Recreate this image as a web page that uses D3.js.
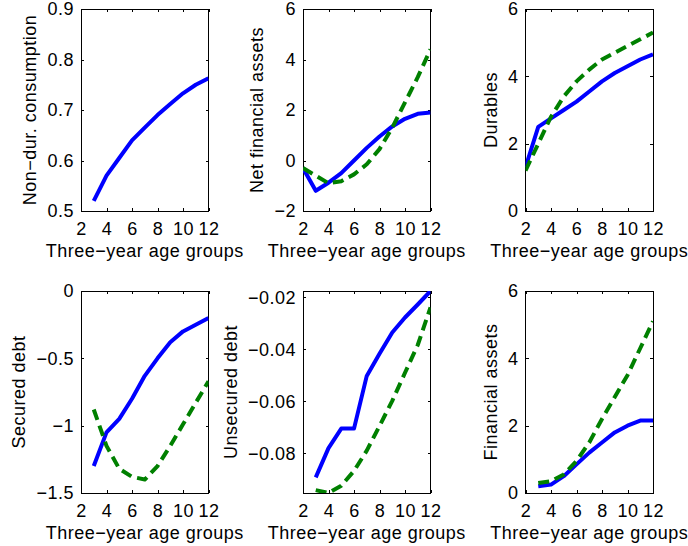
<!DOCTYPE html>
<meta charset="utf-8">
<style>

body {
  margin: 0;
  background: #fff;
}

svg {
  font: 18px "Liberation Sans", Arial, sans-serif;
  letter-spacing: 0.5px;
}

.axis path,
.axis line,
.frame {
  shape-rendering: crispEdges;
}

.axis path {
  display: none;
}

.axis line {
  stroke: #000;
}

.axis text {
  fill: #000;
}

.frame {
  fill: none;
  stroke: #000;
}

.line {
  fill: none;
  stroke-width: 4;
  stroke-linejoin: round;
}

.blue { stroke: #0000ff; }
.green { stroke: #008000; stroke-dasharray: 11,6; }

</style>
<body>
<script src="https://cdn.jsdelivr.net/npm/d3@7"></script>
<script>

var ageFrom2 = [2, 3, 4, 5, 6, 7, 8, 9, 10, 11, 12],
    ageFrom3 = [3, 4, 5, 6, 7, 8, 9, 10, 11, 12],
    xTicks = [2, 4, 6, 8, 10, 12];

var xLabel = "Three\u2212year age groups";

var nonDurBlue = [0.52, 0.57, 0.605, 0.64, 0.665, 0.69, 0.712, 0.733, 0.75, 0.763];

var netFinBlue = [-0.3, -1.2, -0.88, -0.5, 0.0, 0.5, 0.95, 1.35, 1.65, 1.85, 1.9],
    netFinGreen = [-0.3, -0.6, -0.9, -0.82, -0.55, -0.15, 0.45, 1.3, 2.3, 3.3, 4.4];

var durBlue = [1.3, 2.5, 2.75, 3.0, 3.25, 3.55, 3.85, 4.1, 4.3, 4.5, 4.65],
    durGreen = [1.2, 2.0, 2.8, 3.4, 3.85, 4.2, 4.5, 4.7, 4.9, 5.1, 5.3];

var secBlue = [-1.3, -1.05, -0.95, -0.8, -0.63, -0.5, -0.38, -0.3, -0.25, -0.2],
    secGreen = [-0.88, -1.15, -1.32, -1.38, -1.4, -1.3, -1.15, -0.99, -0.83, -0.67];

var unsecBlue = [-0.0893, -0.078, -0.0705, -0.0705, -0.0502, -0.0417, -0.0335, -0.0277, -0.0227, -0.0175],
    unsecGreen = [-0.0942, -0.0953, -0.0925, -0.0868, -0.079, -0.0695, -0.0598, -0.049, -0.0383, -0.0238];

var finBlue = [0.2, 0.25, 0.5, 0.85, 1.2, 1.5, 1.8, 2.0, 2.15, 2.15],
    finGreen = [0.3, 0.35, 0.55, 0.95, 1.5, 2.2, 2.85, 3.5, 4.3, 5.1];

var panels = [
  {label: "Non\u2212dur. consumption", domain: [0.5, 0.9], ticks: [0.5, 0.6, 0.7, 0.8, 0.9],
   series: [{x: ageFrom3, y: nonDurBlue, cls: "blue"}]},
  {label: "Net financial assets", domain: [-2, 6], ticks: [-2, 0, 2, 4, 6],
   series: [{x: ageFrom2, y: netFinBlue, cls: "blue"}, {x: ageFrom2, y: netFinGreen, cls: "green"}]},
  {label: "Durables", domain: [0, 6], ticks: [0, 2, 4, 6],
   series: [{x: ageFrom2, y: durBlue, cls: "blue"}, {x: ageFrom2, y: durGreen, cls: "green"}]},
  {label: "Secured debt", domain: [-1.5, 0], ticks: [-1.5, -1, -0.5, 0],
   series: [{x: ageFrom3, y: secBlue, cls: "blue"}, {x: ageFrom3, y: secGreen, cls: "green"}]},
  {label: "Unsecured debt", domain: d3.extent(unsecBlue.concat(unsecGreen)), ticks: [-0.08, -0.06, -0.04, -0.02],
   series: [{x: ageFrom3, y: unsecBlue, cls: "blue"}, {x: ageFrom3, y: unsecGreen, cls: "green"}]},
  {label: "Financial assets", domain: [0, 6], ticks: [0, 2, 4, 6],
   series: [{x: ageFrom3, y: finBlue, cls: "blue"}, {x: ageFrom3, y: finGreen, cls: "green"}]}
];

var lefts = [81, 303, 525.5],
    tops = [9, 291],
    w = 127.5,
    h = 202,
    tick = 3;

var fmt = d3.format("~g");

var svg = d3.select("body").append("svg")
    .attr("width", 688)
    .attr("height", 546);

panels.forEach(function(p, i) {
  var left = lefts[i % 3],
      top = tops[Math.floor(i / 3)];

  var x = d3.scaleLinear().domain([2, 12]).range([0, w]);
  var y = d3.scaleLinear().domain(p.domain).range([h, 0]);

  var g = svg.append("g")
      .attr("transform", "translate(" + left + "," + top + ")");

  g.append("clipPath")
      .attr("id", "clip" + i)
    .append("rect")
      .attr("width", w)
      .attr("height", h);

  // ticks on all four sides, pointing in
  g.append("g")
      .attr("class", "axis")
      .attr("transform", "translate(0," + h + ")")
      .call(d3.axisBottom(x).tickValues(xTicks).tickSize(-tick).tickPadding(11));

  g.append("g")
      .attr("class", "axis")
      .call(d3.axisTop(x).tickValues(xTicks).tickSize(-tick).tickFormat(""));

  var yAxis = g.append("g")
      .attr("class", "axis")
      .call(d3.axisLeft(y).tickValues(p.ticks).tickSize(-tick).tickPadding(7).tickFormat(fmt));

  g.append("g")
      .attr("class", "axis")
      .attr("transform", "translate(" + w + ",0)")
      .call(d3.axisRight(y).tickValues(p.ticks).tickSize(-tick).tickFormat(""));

  g.selectAll(".axis").attr("font-size", null).attr("font-family", null);

  var maxW = d3.max(yAxis.selectAll(".tick text").nodes(), function(n) {
    return n.getComputedTextLength();
  });

  g.append("rect")
      .attr("class", "frame")
      .attr("width", w)
      .attr("height", h);

  var line = d3.line()
      .x(function(d) { return x(d[0]); })
      .y(function(d) { return y(d[1]); });

  g.append("g")
      .attr("clip-path", "url(#clip" + i + ")")
    .selectAll("path")
      .data(p.series)
    .enter().append("path")
      .attr("class", function(s) { return "line " + s.cls; })
      .attr("d", function(s) { return line(d3.zip(s.x, s.y)); });

  g.append("text")
      .attr("x", w / 2)
      .attr("y", h + 46)
      .attr("text-anchor", "middle")
      .text(xLabel);

  g.append("text")
      .attr("transform", "translate(" + (-(7 + maxW + 11)) + "," + (h / 2) + ")rotate(-90)")
      .attr("text-anchor", "middle")
      .text(p.label);
});

</script>
